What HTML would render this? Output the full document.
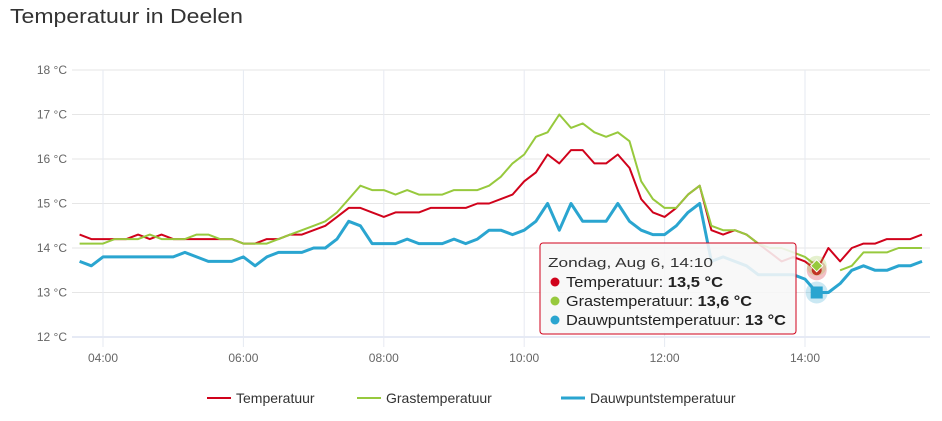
<!DOCTYPE html>
<html><head><meta charset="utf-8"><style>
body{margin:0;background:#fff;font-family:"Liberation Sans","DejaVu Sans",sans-serif;}
svg{display:block}
</style></head><body>
<svg id="chart" width="942" height="421">
<text x="10" y="23" font-size="20" fill="#333" textLength="233" lengthAdjust="spacingAndGlyphs">Temperatuur in Deelen</text>
<g id="grid"></g><g id="series"></g><g id="markers"></g><g id="tooltip"></g><g id="legend"></g>
</svg>
<script>
const yTicks=[12,13,14,15,16,17,18];
const xTickHours=[4,6,8,10,12,14];
const xTickLabels=["04:00","06:00","08:00","10:00","12:00","14:00"];
const startHour=3+40/60; const stepMin=10;
const temperatuur=[14.3,14.2,14.2,14.2,14.2,14.3,14.2,14.3,14.2,14.2,14.2,14.2,14.2,14.2,14.1,14.1,14.2,14.2,14.3,14.3,14.4,14.5,14.7,14.9,14.9,14.8,14.7,14.8,14.8,14.8,14.9,14.9,14.9,14.9,15.0,15.0,15.1,15.2,15.5,15.7,16.1,15.9,16.2,16.2,15.9,15.9,16.1,15.8,15.1,14.8,14.7,14.9,15.2,15.4,14.4,14.3,14.4,14.3,14.1,13.9,13.7,13.8,13.7,13.5,14.0,13.7,14.0,14.1,14.1,14.2,14.2,14.2,14.3];
const grastemperatuur=[14.1,14.1,14.1,14.2,14.2,14.2,14.3,14.2,14.2,14.2,14.3,14.3,14.2,14.2,14.1,14.1,14.1,14.2,14.3,14.4,14.5,14.6,14.8,15.1,15.4,15.3,15.3,15.2,15.3,15.2,15.2,15.2,15.3,15.3,15.3,15.4,15.6,15.9,16.1,16.5,16.6,17.0,16.7,16.8,16.6,16.5,16.6,16.4,15.5,15.1,14.9,14.9,15.2,15.4,14.5,14.4,14.4,14.3,14.1,14.0,14.0,13.9,13.8,13.6,null,13.5,13.6,13.9,13.9,13.9,14.0,14.0,14.0];
const dauwpunt=[13.7,13.6,13.8,13.8,13.8,13.8,13.8,13.8,13.8,13.9,13.8,13.7,13.7,13.7,13.8,13.6,13.8,13.9,13.9,13.9,14.0,14.0,14.2,14.6,14.5,14.1,14.1,14.1,14.2,14.1,14.1,14.1,14.2,14.1,14.2,14.4,14.4,14.3,14.4,14.6,15.0,14.4,15.0,14.6,14.6,14.6,15.0,14.6,14.4,14.3,14.3,14.5,14.8,15.0,13.7,13.8,13.7,13.6,13.4,13.4,13.4,13.4,13.3,13.0,13.0,13.2,13.5,13.6,13.5,13.5,13.6,13.6,13.7];
const hoverIndex=63;
const tooltipTitle="Zondag, Aug 6, 14:10";

const NS="http://www.w3.org/2000/svg";
function yS(v){return 337-(v-12)*44.5;}
function xH(h){return 103+(h-4)*70.2;}
function xI(i){return xH(startHour+i*stepMin/60);}
function mk(tag,attrs,parent){const e=document.createElementNS(NS,tag);for(const k in attrs)e.setAttribute(k,attrs[k]);parent.appendChild(e);return e;}
const grid=document.getElementById('grid');
yTicks.forEach(t=>{
  const l=mk('line',{x1:72,x2:930,y1:yS(t),y2:yS(t),stroke:t===12?'#ccd6eb':'#e6e6e6','stroke-width':1},grid);
  
  
  const tx=mk('text',{x:67,y:yS(t)+4,'text-anchor':'end','font-size':12,fill:'#666'},grid);
  tx.textContent=t+" °C";
  
  
});
xTickHours.forEach((h,k)=>{
  const l=mk('line',{x1:xH(h),x2:xH(h),y1:70,y2:347,stroke:'#e6eaf2','stroke-width':1},grid);
  
  
  const tx=mk('text',{x:xH(h),y:362,'text-anchor':'middle','font-size':12,fill:'#666'},grid);
  tx.textContent=xTickLabels[k];
  
  
});
const ser=document.getElementById('series');
function drawLine(data,color,w,name){
  let d="",pen=false;
  data.forEach((v,i)=>{if(v===null){pen=false;return;}d+=(pen?"L":"M")+xI(i).toFixed(1)+","+yS(v).toFixed(1);pen=true;});
  const p=mk('path',{d:d,fill:'none',stroke:color,'stroke-width':w,'stroke-linejoin':'round'},ser);
  
  
}
drawLine(temperatuur,'#d0021b',2,'temperatuur-line');
drawLine(grastemperatuur,'#97c93d',2,'grastemperatuur-line');
drawLine(dauwpunt,'#2aa5d0',3,'dauwpunt-line');
const mg=document.getElementById('markers');
const hx=xI(hoverIndex);
let e;
e=mk('circle',{cx:hx,cy:yS(temperatuur[hoverIndex]),r:10,fill:'rgba(208,2,27,0.25)'},mg);


e=mk('circle',{cx:hx,cy:yS(temperatuur[hoverIndex]),r:5,fill:'#d0021b'},mg);


e=mk('circle',{cx:hx,cy:yS(grastemperatuur[hoverIndex]),r:10,fill:'rgba(151,201,61,0.25)'},mg);


const gy=yS(grastemperatuur[hoverIndex]);
e=mk('path',{d:`M${hx},${gy-6}L${hx+6},${gy}L${hx},${gy+6}L${hx-6},${gy}Z`,fill:'#97c93d',stroke:'#fff','stroke-width':1},mg);


const dy=yS(dauwpunt[hoverIndex]);
e=mk('circle',{cx:hx,cy:dy,r:11,fill:'rgba(42,165,208,0.25)'},mg);


e=mk('rect',{x:hx-6,y:dy-6,width:12,height:12,fill:'#2aa5d0'},mg);


// tooltip
const tg=document.getElementById('tooltip');
e=mk('rect',{x:540,y:243,width:256,height:91,rx:3,fill:'rgba(247,247,247,0.88)',stroke:'#d0021b','stroke-width':1},tg);


e=mk('text',{x:548,y:267,'font-size':13,fill:'#333',textLength:165,lengthAdjust:'spacingAndGlyphs'},tg);
e.textContent=tooltipTitle;


const ttRows=[["#d0021b","Temperatuur: ",temperatuur[hoverIndex],157],["#97c93d","Grastemperatuur: ",grastemperatuur[hoverIndex],186],["#2aa5d0","Dauwpuntstemperatuur: ",dauwpunt[hoverIndex],220]];
ttRows.forEach((r,k)=>{
  const y=287+k*19;
  const c=mk('circle',{cx:555,cy:y-5,r:4.5,fill:r[0]},tg);
  
  
  const t=mk('text',{x:566,y:y,'font-size':15,fill:'#222',textLength:r[3],lengthAdjust:'spacingAndGlyphs'},tg);
  t.textContent=r[1];
  const b=mk('tspan',{'font-weight':'bold'},t);
  b.textContent=String(r[2]).replace('.',',')+" °C";
  
  
});
// legend
const lg=document.getElementById('legend');
const legendItems=[["Temperatuur","#d0021b",207],["Grastemperatuur","#97c93d",357],["Dauwpuntstemperatuur","#2aa5d0",561]];
legendItems.forEach(it=>{
  const g=mk('g',{},lg);
  
  
  mk('line',{x1:it[2],x2:it[2]+24,y1:398,y2:398,stroke:it[1],'stroke-width':it[1]==='#2aa5d0'?3:2},g);
  const t=mk('text',{x:it[2]+29,y:403,'font-size':14,fill:'#333'},g);
  t.textContent=it[0];
});
</script>
</body></html>
